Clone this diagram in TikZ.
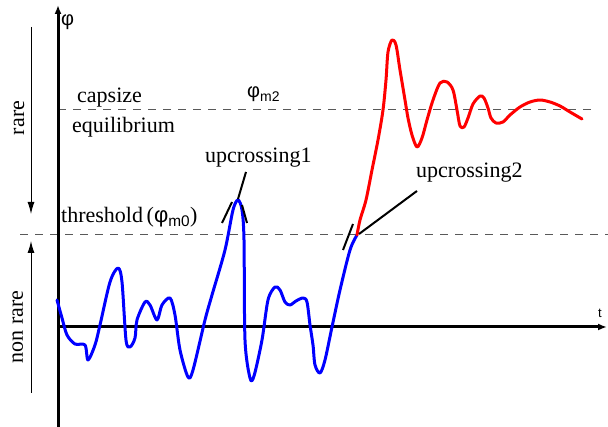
\documentclass[tikz,border=0pt]{standalone}
\usepackage{fontspec}
\setmainfont{Liberation Serif}
\newfontfamily\sansphi{Liberation Sans}
\usetikzlibrary{arrows.meta}

\tikzset{
  axisline/.style={line width=3pt, -{Latex[length=9pt,width=7pt]}},
  levelline/.style={gray!70!black, line width=1pt, dash pattern=on 8pt off 7pt},
  rangeline/.style={line width=1pt, -{Latex[length=12pt,width=7pt]}},
  lowpath/.style={blue, line width=3pt, line join=round, line cap=round},
  highpath/.style={red, line width=3pt, line join=round, line cap=round},
  marker/.style={line width=2pt},
  txt/.style={font=\rmfamily\fontsize{22}{26}\selectfont, inner sep=0pt},
  sidetxt/.style={font=\rmfamily\fontsize{22}{26}\selectfont, inner sep=0pt, rotate=90},
  symb/.style={font=\sansphi\fontsize{20}{24}\selectfont, inner sep=0pt}
}

\begin{document}
\begin{tikzpicture}[x=1pt, y=-1pt]
\useasboundingbox (0,0) rectangle (608,427);

% threshold and capsize levels
\draw[levelline] (20,235) -- (608,235);
\draw[levelline] (58,110) -- (592,110);

% axes
\draw[axisline] (58,427) -- (58,5);
\draw[axisline] (58,327) -- (607,327);
\node[symb, anchor=base west] (philab) at (61,26) {φ};
\node[symb, font=\sansphi\fontsize{13}{15}\selectfont, anchor=base] (tlab) at (600,318) {t};

% rare / non rare ranges
\draw[rangeline] (31,27) -- (31,214);
\draw[rangeline] (31,393) -- (31,241);
\node[sidetxt, anchor=base] (rare) at (24,118) {rare};
\node[sidetxt, anchor=base] (nonrare) at (23,327) {non rare};

% level labels
\node[txt, anchor=base west] (capsize) at (77,103) {capsize};
\node[txt, anchor=base west] (equil) at (72,133) {equilibrium};
\node[symb, anchor=base west] (phim2) at (247,98) {φ\textsubscript{m2}};
\node[txt, anchor=base west] (thresh) at (61,223) {threshold\,({\sansphi φ\textsubscript{m0}})};

% response below the capsize path
\draw[lowpath] plot[smooth, tension=0.5] coordinates {
  (57,300) (62,318) (67,335) (75,344) (85,345) (88,360) (95,345) (100,325)
  (110,282) (118,268) (122,282) (126,340) (130,347) (135,338) (137,320)
  (145,302) (150,305) (157,320) (162,305) (170,298) (175,315) (180,350)
  (188,377) (193,370) (205,320) (212,295) (225,250) (233,210) (238,200)
  (242,210) (244,240) (245,340) (250,378) (254,376) (262,340) (268,300)
  (275,287) (280,290) (285,302) (290,305) (296,301) (303,298) (307,302)
  (310,325) (313,345) (315,365) (320,373) (325,360) (332,327) (340,290)
  (350,250) (357,235)};

% capsize path
\draw[highpath] plot[smooth, tension=0.5] coordinates {
  (357,235) (360,220) (366,200) (372,170) (378,140) (383,110) (386,80)
  (388,52) (392,40) (396,45) (400,70) (405,100) (408,118) (412,135)
  (417,147) (422,138) (427,120) (433,100) (440,83) (447,82) (453,90)
  (457,110) (460,126) (464,127) (468,118) (473,104) (480,96) (484,98)
  (488,108) (491,118) (496,123) (503,122) (510,115) (520,107) (530,102)
  (540,100) (550,102) (560,106) (570,112) (582,119)};

% upcrossing marks
\node[txt, anchor=base west] (up1) at (205,163) {upcrossing1};
\node[txt, anchor=base west] (up2) at (416,178) {upcrossing2};
\coordinate (peak1) at (238,199);
\coordinate (cross2) at (359,234);
\draw[marker] (up1.south west) ++(41,4) -- (peak1);
\draw[marker] (up2.south west) ++(1,8) -- (cross2);
\draw[marker] (222,223) -- (232,202);
\draw[marker] (242,205) -- (247,223);
\draw[marker] (343,250) -- (353,224);

\end{tikzpicture}
\end{document}
